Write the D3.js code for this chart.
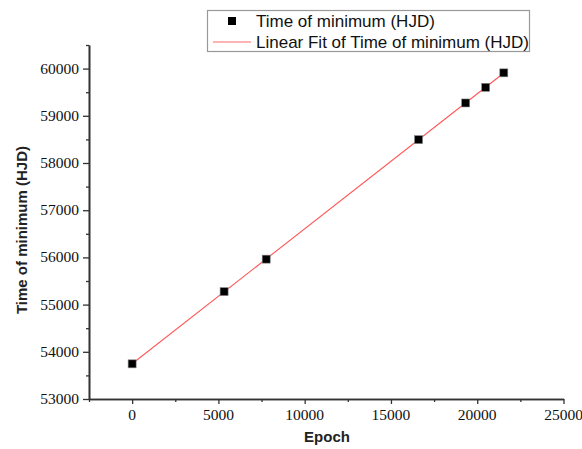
<!DOCTYPE html>
<html><head><meta charset="utf-8">
<script src="https://cdn.jsdelivr.net/npm/d3@7"></script>
<style>body{margin:0;background:#fff}
.tl{font-family:'Liberation Serif','Times New Roman',serif;font-size:15.5px;fill:#111}
.ttl{font-family:'Liberation Sans',Arial,sans-serif;font-size:15px;font-weight:bold;fill:#222}
.lgt{font-family:'Liberation Sans',Arial,sans-serif;font-size:17px;fill:#111}
</style>
</head><body>
<svg id="c" width="582" height="449"></svg>
<script>
const epochs = [0, 5330, 7770, 16600, 19330, 20490, 21540];
const minima = [53745, 55275, 55963, 58495, 59272, 59603, 59910];
const xTicks = [0, 5000, 10000, 15000, 20000, 25000];
const yTicks = [53000, 54000, 55000, 56000, 57000, 58000, 59000, 60000];
const seriesName = "Time of minimum (HJD)";
const fitName = "Linear Fit of Time of minimum (HJD)";

const svg = d3.select("#c");
const x = d3.scaleLinear().domain([-2500, 25000]).range([89, 563.5]);
const y = d3.scaleLinear().domain([53000, 60500]).range([399, 45]);
const axisColor = "#333";

// least-squares linear fit from data
const n = epochs.length;
const mx = d3.mean(epochs), my = d3.mean(minima);
let sxy = 0, sxx = 0;
for (let i = 0; i < n; i++) { sxy += (epochs[i]-mx)*(minima[i]-my); sxx += (epochs[i]-mx)**2; }
const slope = sxy/sxx, icpt = my - slope*mx;
const fitX = d3.extent(epochs);

const xAxis = d3.axisBottom(x).tickValues(xTicks).tickSize(5).tickSizeOuter(0).tickFormat("");
const xMinor = d3.axisBottom(x).tickValues(d3.range(-2500, 25001, 2500).filter(v => !xTicks.includes(v))).tickSize(3).tickSizeOuter(0).tickFormat("");
const yAxis = d3.axisLeft(y).tickValues(yTicks).tickSize(6).tickSizeOuter(0).tickFormat("");
const yMinor = d3.axisLeft(y).tickValues(d3.range(53500, 60501, 1000)).tickSize(3).tickSizeOuter(0).tickFormat("");

function styleAxis(g) {
  g.select(".domain").attr("stroke", axisColor).attr("stroke-width", 1.6);
  g.selectAll(".tick line").attr("stroke", axisColor).attr("stroke-width", 1.3);
}
svg.append("g").attr("transform", "translate(0,399)").call(xMinor).call(styleAxis);
svg.append("g").attr("transform", "translate(0,399)").call(xAxis).call(styleAxis);
svg.append("g").attr("transform", "translate(89,0)").call(yMinor).call(styleAxis);
svg.append("g").attr("transform", "translate(89,0)").call(yAxis).call(styleAxis);

// tick labels
svg.append("g").selectAll("text").data(xTicks).join("text").attr("class", "tl")
  .attr("x", d => x(d)).attr("y", 420).attr("text-anchor", "middle").text(d => d3.format("d")(d));
svg.append("g").selectAll("text").data(yTicks).join("text").attr("class", "tl")
  .attr("x", 79).attr("y", d => y(d) + 5).attr("text-anchor", "end").text(d => d3.format("d")(d));

// axis titles
svg.append("text").attr("class", "ttl").attr("x", 327).attr("y", 442).attr("text-anchor", "middle").text("Epoch");
svg.append("text").attr("class", "ttl").attr("transform", "translate(27,230) rotate(-90)").attr("text-anchor", "middle").text(seriesName);

// fit line
svg.append("line").attr("x1", x(fitX[0])).attr("y1", y(icpt + slope*fitX[0]))
  .attr("x2", x(fitX[1])).attr("y2", y(icpt + slope*fitX[1]))
  .attr("stroke", "#ff5555").attr("stroke-width", 1.1);

// points
const s = 8;
svg.append("g").selectAll("rect").data(epochs).join("rect")
  .attr("x", (d) => x(d) - s/2).attr("y", (d, i) => y(minima[i]) - s/2)
  .attr("width", s).attr("height", s).attr("fill", "#000").attr("stroke", "#888").attr("stroke-width", 0.6);

// legend
const lg = svg.append("g");
lg.append("rect").attr("x", 207.5).attr("y", 10.5).attr("width", 322).attr("height", 41)
  .attr("fill", "#fff").attr("stroke", "#999").attr("stroke-width", 1.2);
lg.append("rect").attr("x", 228).attr("y", 17).attr("width", 8).attr("height", 8).attr("fill", "#000");
lg.append("line").attr("x1", 213).attr("x2", 251).attr("y1", 42).attr("y2", 42).attr("stroke", "#ff6666").attr("stroke-width", 1.1);
lg.append("text").attr("class", "lgt").attr("x", 256).attr("y", 27).text(seriesName);
lg.append("text").attr("class", "lgt").attr("x", 256).attr("y", 48).text(fitName);
</script>
</body></html>
